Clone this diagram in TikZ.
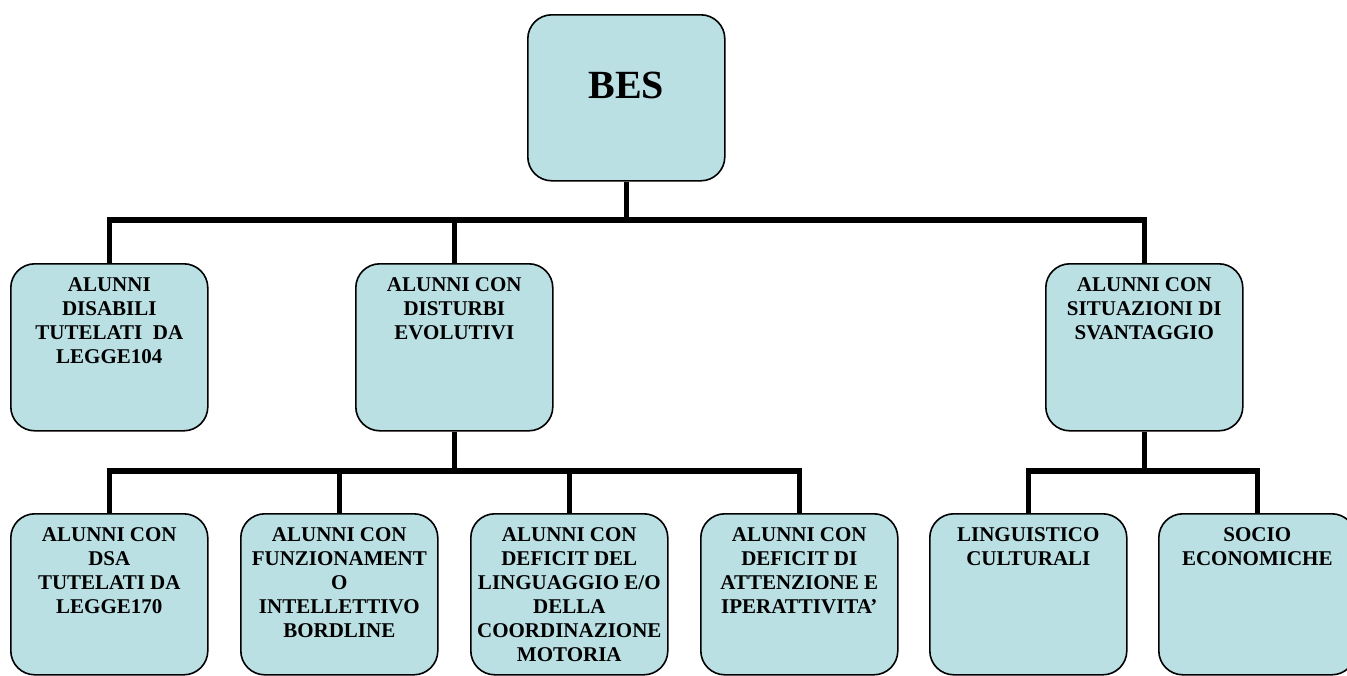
\documentclass[tikz,border=0pt]{standalone}
\usepackage{fontspec}
\setmainfont{Liberation Serif}
\begin{document}
\definecolor{boxfill}{RGB}{186,224,228}
\tikzset{
  box/.style={draw=black, line width=1.6pt, fill=boxfill, rounded corners=24pt,
    minimum width=197pt, inner sep=0pt, anchor=north west},
  lvltwo/.style={box, minimum height=167pt},
  lvlthree/.style={box, minimum height=161pt},
  conn/.style={line width=5.5pt, line join=miter, line cap=butt},
  txt/.style={font=\bfseries\fontsize{21}{24}\selectfont, align=center, inner sep=0pt, anchor=north, yshift=-14pt},
  bigtxt/.style={font=\bfseries\fontsize{40}{44}\selectfont, inner sep=0pt, anchor=north, yshift=-58pt}
}
\begin{tikzpicture}[x=1pt,y=-1pt]
\useasboundingbox (0,0) rectangle (1347,675);
% boxes
\node[box, minimum height=166pt, label={[bigtxt]north:BES}] (bes) at (527,14) {};
\node[lvltwo, label={[txt]north:ALUNNI\\DISABILI\\TUTELATI~~DA\\LEGGE104}] (a) at (10,263) {};
\node[lvltwo, label={[txt]north:ALUNNI CON\\DISTURBI\\EVOLUTIVI}] (b) at (355,263) {};
\node[lvltwo, label={[txt]north:ALUNNI CON\\SITUAZIONI DI\\SVANTAGGIO}] (c) at (1045,263) {};
\node[lvlthree, label={[txt]north:ALUNNI CON\\DSA\\TUTELATI DA\\LEGGE170}] (d1) at (10,513) {};
\node[lvlthree, label={[txt]north:ALUNNI CON\\FUNZIONAMENT\\O\\INTELLETTIVO\\BORDLINE}] (d2) at (240,513) {};
\node[lvlthree, label={[txt]north:ALUNNI CON\\DEFICIT DEL\\LINGUAGGIO E/O\\DELLA\\COORDINAZIONE\\MOTORIA}] (d3) at (470,513) {};
\node[lvlthree, label={[txt]north:ALUNNI CON\\DEFICIT DI\\ATTENZIONE E\\IPERATTIVITA’}] (d4) at (700,513) {};
\node[lvlthree, label={[txt]north:LINGUISTICO\\CULTURALI}] (e1) at (929,513) {};
\node[lvlthree, label={[txt]north:SOCIO\\ECONOMICHE}] (e2) at (1158,513) {};
% junction coordinates
\coordinate (j1) at (bes.south |- 0,220);
\coordinate (j2) at (b.south |- 0,471);
\coordinate (j3) at (c.south |- 0,471);
% connectors
\draw[conn] (bes.south) -- (j1);
\draw[conn] (a.north) |- (j1) -| (c.north);
\draw[conn] (b.north) -- (b.north |- j1);
\draw[conn] (b.south) -- (j2);
\draw[conn] (d1.north) |- (j2) -| (d4.north);
\draw[conn] (d2.north) -- (d2.north |- j2);
\draw[conn] (d3.north) -- (d3.north |- j2);
\draw[conn] (c.south) -- (j3);
\draw[conn] (e1.north) |- (j3) -| (e2.north);
\end{tikzpicture}
\end{document}
